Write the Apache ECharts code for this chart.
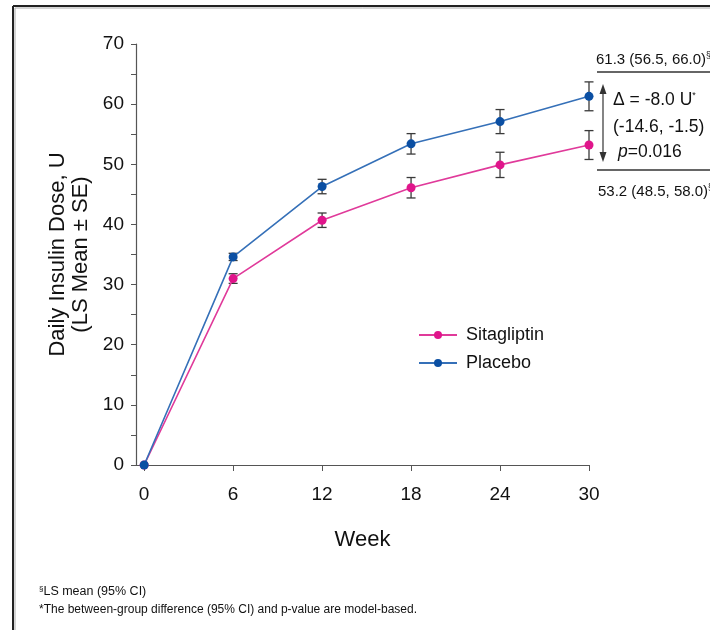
<!DOCTYPE html>
<html>
<head>
<meta charset="utf-8">
<script src="https://cdn.jsdelivr.net/npm/echarts@6/dist/echarts.min.js"></script>
<style>
  html, body { margin: 0; padding: 0; background: #fff; }
  #chart { width: 710px; height: 630px; }
</style>
</head>
<body>
<div id="chart"></div>
<script>
// Study weeks and least-squares mean daily insulin dose (U) with standard errors
const weeks = [0, 6, 12, 18, 24, 30];
const sitagliptin = [0, 31.0, 40.7, 46.1, 49.9, 53.2];
const sitagliptinSE = [0, 0.8, 1.2, 1.7, 2.1, 2.4];
const placebo = [0, 34.6, 46.3, 53.4, 57.1, 61.3];
const placeboSE = [0, 0.6, 1.2, 1.7, 2.0, 2.4];
const yTicks = [0, 10, 20, 30, 40, 50, 60, 70];

// Week-30 summaries
const placeboCI = '(56.5, 66.0)';
const sitagliptinCI = '(48.5, 58.0)';
const diffText = '-8.0';
const diffCI = '(-14.6, -1.5)';
const pText = '0.016';

const FONT = "'Liberation Sans', Arial, sans-serif";
const INK = '#111';
const PINK = '#e0158b';
const PINK_LINE = '#e03a9a';
const BLUE = '#0b4fa3';
const BLUE_LINE = '#3570b8';

const pairs = (ys) => weeks.map((w, i) => [w, ys[i]]);
const bars = (ys, se) => weeks.map((w, i) => [w, ys[i], se[i]]).filter(d => d[2] > 0);

function errorBar(params, api) {
  const x = api.value(0), y = api.value(1), s = api.value(2);
  const hi = api.coord([x, y + s]);
  const lo = api.coord([x, y - s]);
  const cap = 4.5;
  const style = { stroke: '#3a3a3a', lineWidth: 1.3 };
  return {
    type: 'group',
    children: [
      { type: 'line', shape: { x1: hi[0], y1: hi[1], x2: lo[0], y2: lo[1] }, style },
      { type: 'line', shape: { x1: hi[0] - cap, y1: hi[1], x2: hi[0] + cap, y2: hi[1] }, style },
      { type: 'line', shape: { x1: lo[0] - cap, y1: lo[1], x2: lo[0] + cap, y2: lo[1] }, style }
    ]
  };
}

const chart = echarts.init(document.getElementById('chart'), null, { renderer: 'canvas' });

const supRich = (size, sup) => ({
  n: { font: size + 'px ' + FONT, fill: INK },
  s: { font: sup + 'px ' + FONT, fill: INK, verticalAlign: 'top', padding: [0, 0, Math.round(size / 2), 0] }
});

chart.setOption({
  animation: false,
  backgroundColor: '#fff',
  textStyle: { fontFamily: FONT },
  grid: { left: 136, right: 121, top: 44, bottom: 165, containLabel: false },
  legend: {
    left: 413, top: 321, orient: 'vertical', itemGap: 10,
    itemWidth: 38, itemHeight: 10,
    textStyle: { fontSize: 18, color: INK, fontFamily: FONT, padding: [0, 0, 0, 4] },
    data: ['Sitagliptin', 'Placebo']
  },
  xAxis: {
    type: 'value', min: -0.55, max: 30,
    name: 'Week', nameLocation: 'middle', nameGap: 64,
    nameTextStyle: { fontSize: 22, color: INK, fontFamily: FONT },
    axisLine: { show: true, onZero: false, lineStyle: { color: '#555', width: 1.2 } },
    axisTick: { show: true, inside: false, length: 6, customValues: weeks, lineStyle: { color: '#555' } },
    axisLabel: { customValues: weeks, margin: 20, fontSize: 19, color: INK, fontFamily: FONT },
    splitLine: { show: false }
  },
  yAxis: {
    type: 'value', min: 0, max: 70, interval: 10,
    name: 'Daily Insulin Dose, U\n(LS Mean \u00b1 SE)', nameLocation: 'middle', nameRotate: 90, nameGap: 43,
    nameTextStyle: { fontSize: 22, lineHeight: 23, color: INK, fontFamily: FONT },
    axisLine: { show: true, onZero: false, lineStyle: { color: '#555', width: 1.2 } },
    axisTick: { show: true, inside: false, length: 5, lineStyle: { color: '#555' } },
    minorTick: { show: true, splitNumber: 2, length: 5, lineStyle: { color: '#555' } },
    axisLabel: {
      margin: 12, fontSize: 19, color: INK, fontFamily: FONT,
      formatter: (v) => (yTicks.indexOf(v) >= 0 ? String(v) : '')
    },
    splitLine: { show: false }
  },
  series: [
    {
      type: 'custom', name: 'sitaErr', renderItem: errorBar, z: 1,
      data: bars(sitagliptin, sitagliptinSE), encode: { x: 0, y: 1 }, silent: true
    },
    {
      type: 'custom', name: 'placeboErr', renderItem: errorBar, z: 1,
      data: bars(placebo, placeboSE), encode: { x: 0, y: 1 }, silent: true
    },
    {
      name: 'Sitagliptin', type: 'line', data: pairs(sitagliptin), z: 3,
      symbol: 'circle', symbolSize: 9,
      itemStyle: { color: PINK },
      lineStyle: { color: PINK_LINE, width: 1.6 }
    },
    {
      name: 'Placebo', type: 'line', data: pairs(placebo), z: 4,
      symbol: 'circle', symbolSize: 9,
      itemStyle: { color: BLUE },
      lineStyle: { color: BLUE_LINE, width: 1.6 }
    }
  ],
  graphic: [
    // Frame around the figure
    { type: 'line', shape: { x1: 13, y1: 6, x2: 710, y2: 6 }, style: { stroke: '#222', lineWidth: 2 } },
    { type: 'line', shape: { x1: 13, y1: 6, x2: 13, y2: 630 }, style: { stroke: '#222', lineWidth: 2 } },
    { type: 'line', shape: { x1: 15, y1: 8, x2: 710, y2: 8 }, style: { stroke: '#aaa', lineWidth: 1 } },
    { type: 'line', shape: { x1: 15, y1: 8, x2: 15, y2: 630 }, style: { stroke: '#aaa', lineWidth: 1 } },

    // Week-30 summary block
    {
      type: 'text', left: 596, top: 51, z: 10,
      style: { text: '{n|' + placebo[5].toFixed(1) + ' ' + placeboCI + '}{s|\u00a7}', rich: supRich(15, 9) }
    },
    { type: 'line', shape: { x1: 597, y1: 72, x2: 710, y2: 72 }, style: { stroke: '#333', lineWidth: 1.3 } },
    // double-headed arrow spanning the between-group difference
    { type: 'line', shape: { x1: 603, y1: 88, x2: 603, y2: 158 }, style: { stroke: '#333', lineWidth: 1.2 } },
    { type: 'polygon', shape: { points: [[603, 84], [599.5, 94], [606.5, 94]] }, style: { fill: '#333' } },
    { type: 'polygon', shape: { points: [[603, 162], [599.5, 152], [606.5, 152]] }, style: { fill: '#333' } },
    {
      type: 'text', left: 613, top: 91, z: 10,
      style: { text: '{n|\u0394 = ' + diffText + ' U}{s|*}', rich: supRich(17.5, 9) }
    },
    {
      type: 'text', left: 613, top: 118, z: 10,
      style: { text: diffCI, font: '17.5px ' + FONT, fill: INK }
    },
    {
      type: 'text', left: 618, top: 143, z: 10,
      style: {
        text: '{i|p}{n|=' + pText + '}',
        rich: { i: { font: 'italic 17.5px ' + FONT, fill: INK }, n: { font: '17.5px ' + FONT, fill: INK } }
      }
    },
    { type: 'line', shape: { x1: 597, y1: 170, x2: 710, y2: 170 }, style: { stroke: '#333', lineWidth: 1.3 } },
    {
      type: 'text', left: 598, top: 183, z: 10,
      style: { text: '{n|' + sitagliptin[5].toFixed(1) + ' ' + sitagliptinCI + '}{s|\u00a7}', rich: supRich(15, 9) }
    },

    // Footnotes
    {
      type: 'text', left: 39, top: 585, z: 10,
      style: {
        text: '{s|\u00a7}{n|LS mean (95% CI)}',
        rich: {
          n: { font: '12.5px ' + FONT, fill: INK },
          s: { font: '8px ' + FONT, fill: INK, verticalAlign: 'top', padding: [0, 0, 6, 0] }
        }
      }
    },
    {
      type: 'text', left: 39, top: 604, z: 10,
      style: { text: '*The between-group difference (95% CI) and p-value are model-based.', font: '12px ' + FONT, fill: INK }
    }
  ]
});
</script>
</body>
</html>
